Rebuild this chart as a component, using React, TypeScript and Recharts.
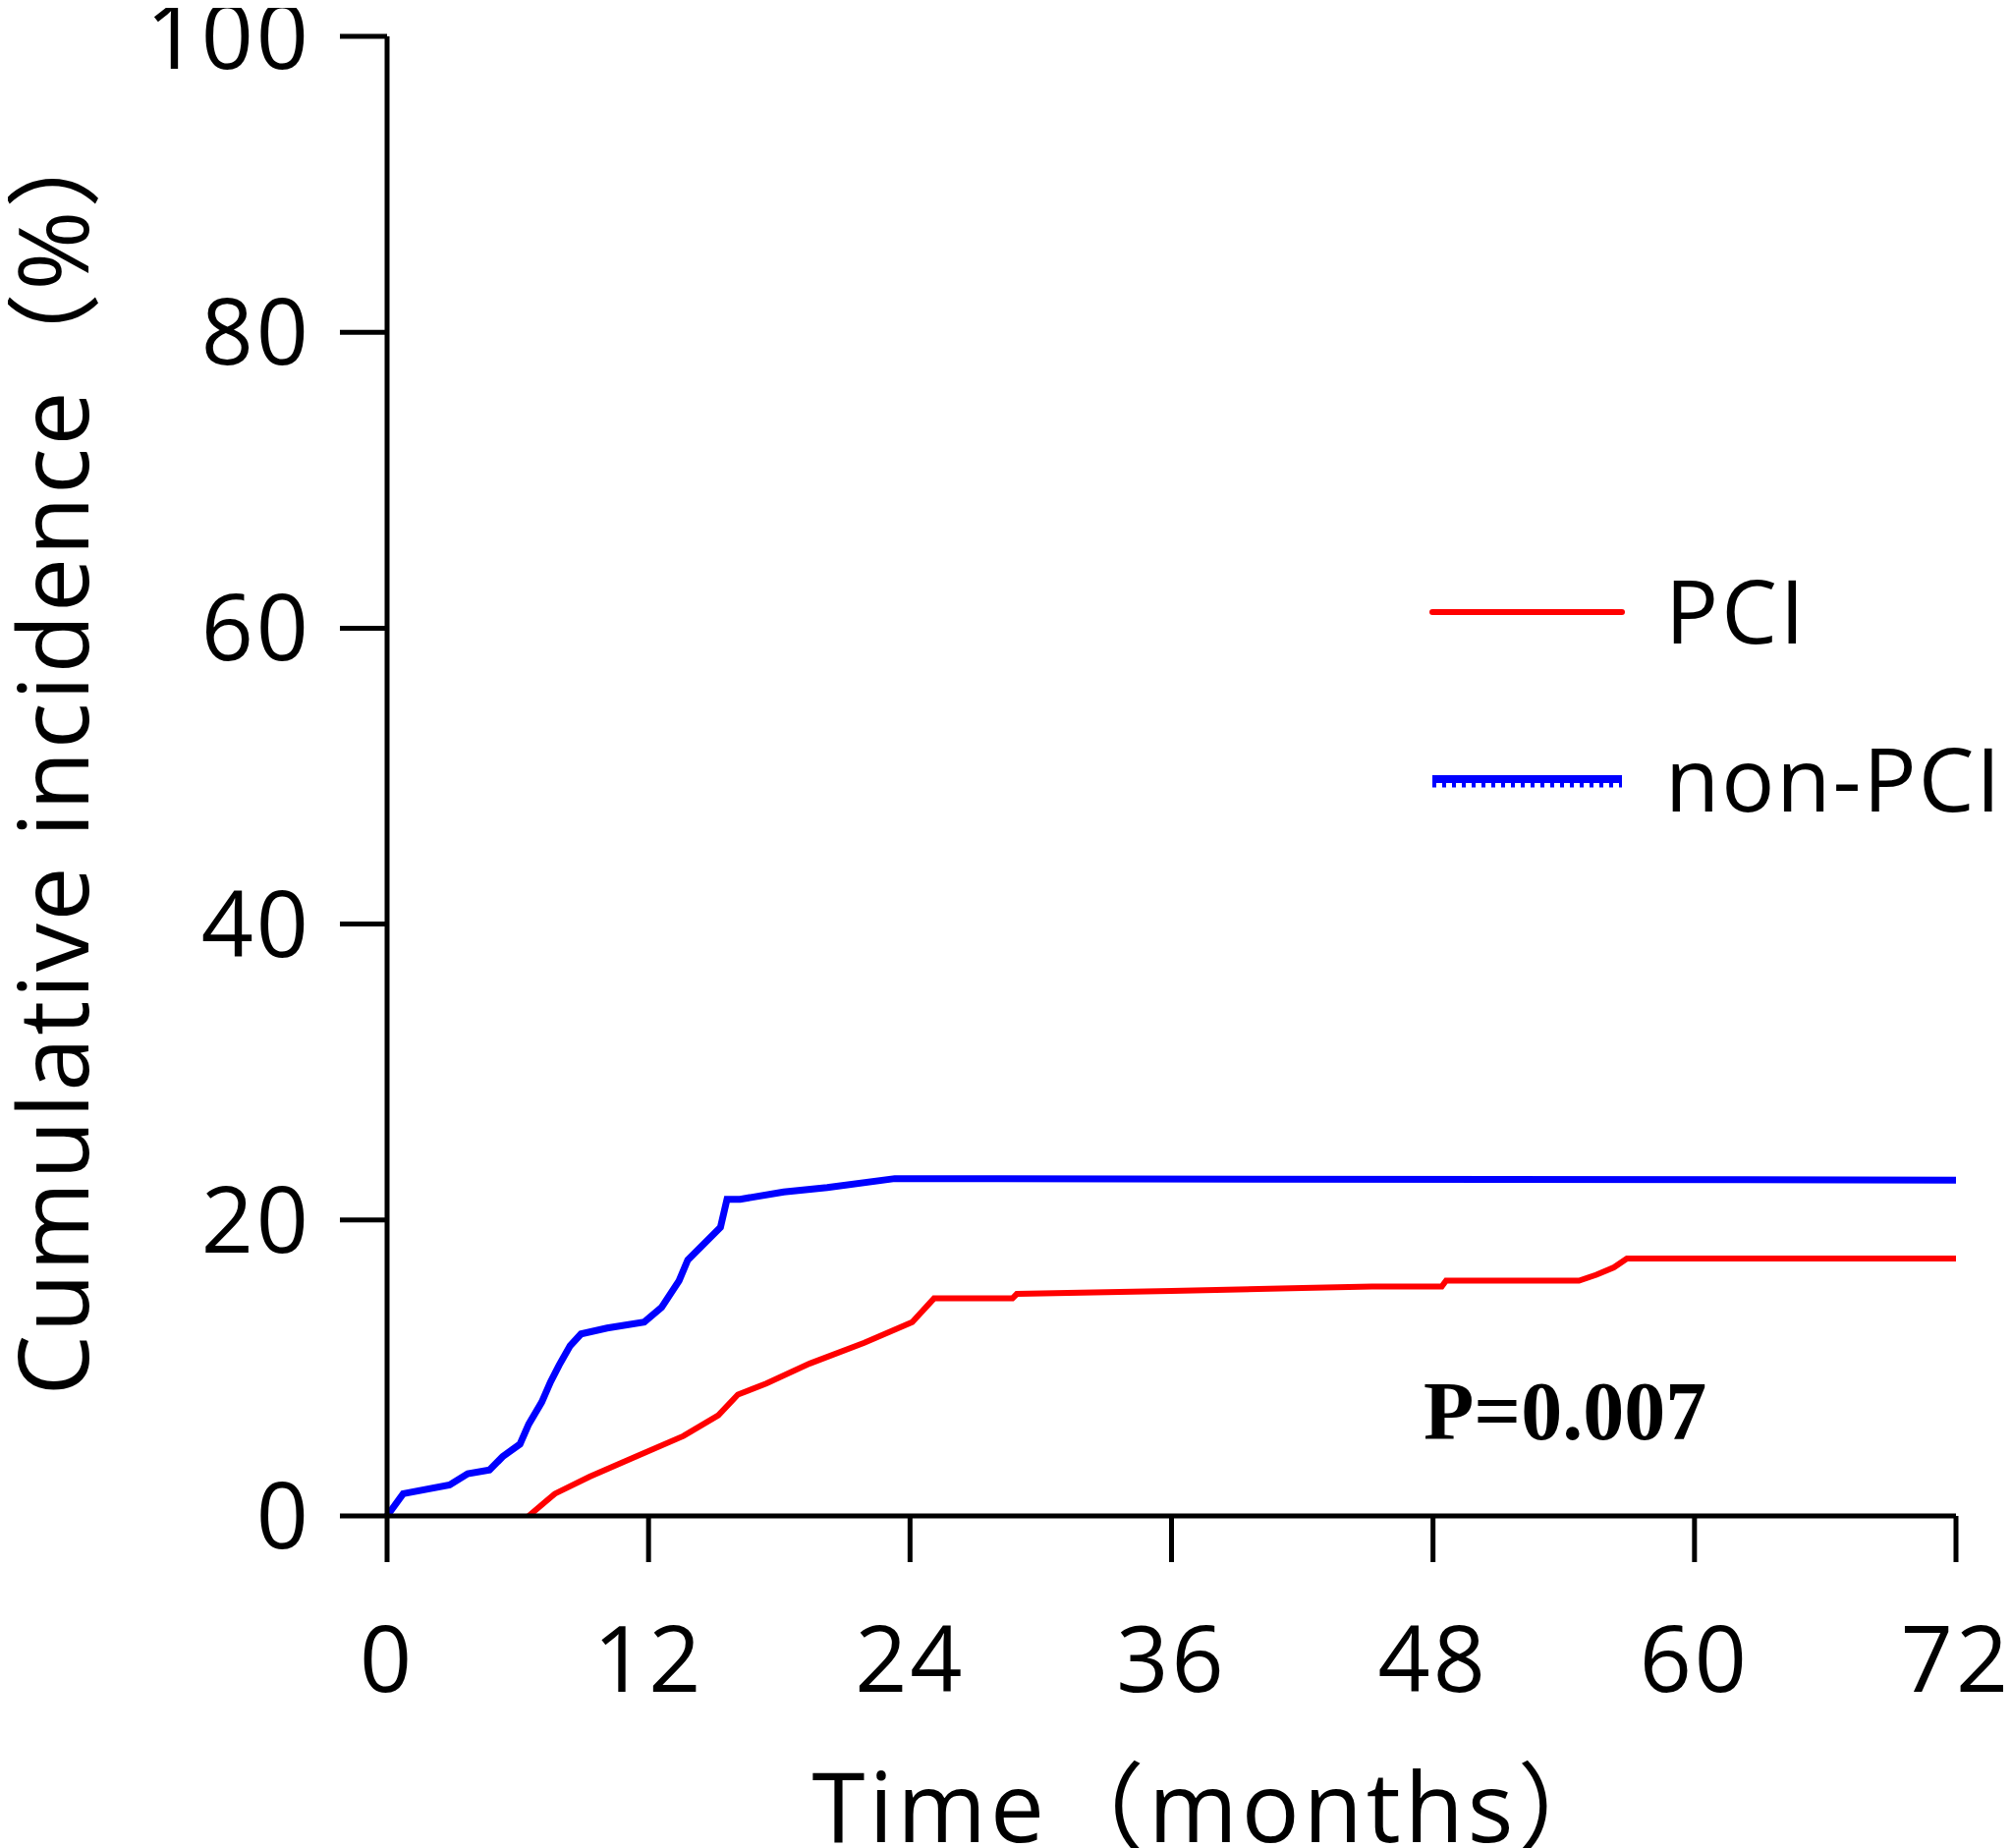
import React from "react";
import { LineChart, Line, XAxis, YAxis, Legend, Customized } from "recharts";

const xTicks = [0, 12, 24, 36, 48, 60, 72];
const yTicks = [0, 20, 40, 60, 80, 100];

const pciMonths = [6.5, 7.7, 9.3, 11.4, 13.6, 15.2, 16.1, 17.4, 19.4, 21.9, 24.1, 25.1, 28.7, 28.9, 36, 42, 45.2, 48.4, 48.6, 54.7, 55.5, 56.3, 56.9, 72];
const pciValues = [0, 1.5, 2.65, 4.0, 5.4, 6.8, 8.2, 8.95, 10.3, 11.7, 13.1, 14.7, 14.7, 15.0, 15.2, 15.4, 15.5, 15.5, 15.9, 15.9, 16.3, 16.8, 17.4, 17.4];

const nonPciMonths = [0, 0.74, 2.87, 3.7, 4.7, 5.3, 6.1, 6.5, 7.1, 7.5, 7.9, 8.4, 8.9, 10.1, 11.8, 12.6, 13.4, 13.8, 15.3, 15.6, 16.2, 18.2, 20.2, 23.3, 72];
const nonPciValues = [0, 1.5, 2.1, 2.85, 3.1, 4.0, 4.85, 6.2, 7.7, 9.05, 10.2, 11.5, 12.3, 12.7, 13.1, 14.1, 15.9, 17.3, 19.5, 21.4, 21.4, 21.9, 22.2, 22.8, 22.7];

const pciData = pciMonths.map((t, i) => ({ t, v: pciValues[i] }));
const nonPciData = nonPciMonths.map((t, i) => ({ t, v: nonPciValues[i] }));

const seriesNames = ["PCI", "non-PCI"];
const seriesColors = ["#ff0000", "#0000ff"];
const pValueText = "P=0.007";

const FONT = "'Open Sans', 'Noto Sans CJK SC', sans-serif";

const LegendContent = () => (
  <svg width={620} height={320} style={{ overflow: "visible", display: "block" }}>
    <line x1={10} y1={75} x2={203} y2={75} stroke={seriesColors[0]} strokeWidth={6} strokeLinecap="round" />
    <text x={247} y={107} fontFamily={FONT} fontSize={90} letterSpacing={3} fill="#000">{seriesNames[0]}</text>
    <line x1={10} y1={245} x2={203} y2={245} stroke={seriesColors[1]} strokeWidth={8} />
    <line x1={10} y1={251} x2={203} y2={251} stroke={seriesColors[1]} strokeWidth={5} strokeDasharray="4 6" />
    <text x={247} y={278} fontFamily={FONT} fontSize={90} letterSpacing={2} fill="#000">{seriesNames[1]}</text>
  </svg>
);

const PText = () => (
  <text x={1441} y={1457} fontFamily="'Liberation Serif', 'Times New Roman', serif" fontWeight="bold" fontSize={84} fill="#000">
    {pValueText}
  </text>
);

const XTitle = (props: any) => {
  const vb = props.viewBox || {};
  return (
    <text x={vb.x + vb.width / 2 + 44} y={1867} textAnchor="middle" fontFamily={FONT} fontSize={98} letterSpacing={4} fill="#000">
      Time（months）
    </text>
  );
};

const YTitle = (props: any) => {
  const vb = props.viewBox || {};
  const cy = vb.y + vb.height / 2 - 24;
  return (
    <text x={82} y={cy} transform={`rotate(-90, 82, ${cy})`} textAnchor="middle" fontFamily={FONT} fontSize={98} letterSpacing={2.5} fill="#000">
      Cumulative incidence（%）
    </text>
  );
};

export default function App() {
  return (
    <div style={{ width: 2039, height: 1873, background: "#fff" }}>
      <LineChart width={2039} height={1873} margin={{ top: 29, right: 56, left: 0, bottom: 0 }}>
        <XAxis
          type="number"
          dataKey="t"
          domain={[0, 72]}
          ticks={xTicks}
          interval={0}
          height={338}
          allowDuplicatedCategory={false}
          axisLine={{ stroke: "#000", strokeWidth: 5 }}
          tickLine={{ stroke: "#000", strokeWidth: 5 }}
          tickSize={47}
          tickMargin={66}
          tick={{ fontFamily: FONT, fontSize: 93, letterSpacing: 3, fill: "#000" }}
          label={<XTitle />}
        />
        <YAxis
          type="number"
          dataKey="v"
          domain={[0, 100]}
          ticks={yTicks}
          interval={0}
          width={386}
          axisLine={{ stroke: "#000", strokeWidth: 5 }}
          tickLine={{ stroke: "#000", strokeWidth: 5 }}
          tickSize={48}
          tickMargin={29}
          tick={{ fontFamily: FONT, fontSize: 93, letterSpacing: 3, fill: "#000" }}
          label={<YTitle />}
        />
        <Line
          data={pciData}
          dataKey="v"
          name={seriesNames[0]}
          type="linear"
          stroke={seriesColors[0]}
          strokeWidth={6}
          dot={false}
          isAnimationActive={false}
        />
        <Line
          data={nonPciData}
          dataKey="v"
          name={seriesNames[1]}
          type="linear"
          stroke={seriesColors[1]}
          strokeWidth={7}
          dot={false}
          isAnimationActive={false}
        />
        <Legend
          layout="horizontal"
          verticalAlign="middle"
          align="center"
          content={<LegendContent />}
          wrapperStyle={{ position: "absolute", left: 1440, top: 540, width: 620, height: 320 }}
        />
        <Customized component={PText} />
      </LineChart>
    </div>
  );
}
